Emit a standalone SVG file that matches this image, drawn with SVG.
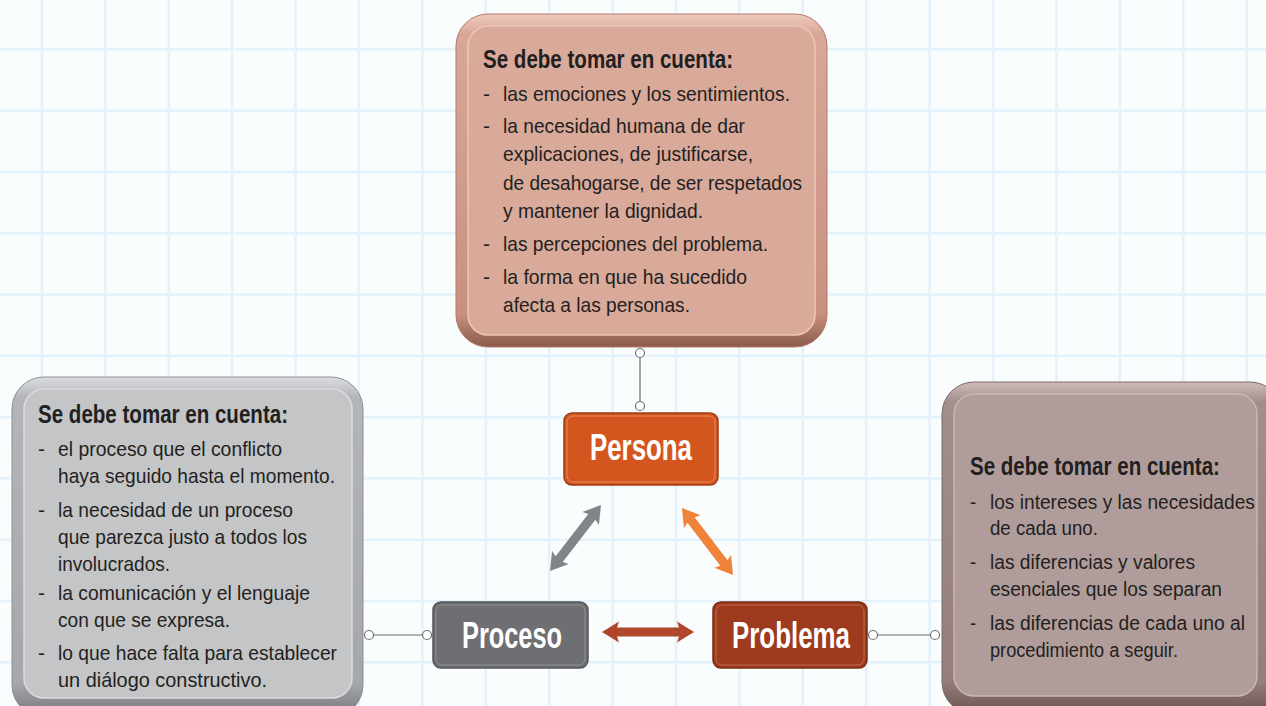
<svg xmlns="http://www.w3.org/2000/svg" width="1266" height="706" viewBox="0 0 1266 706">
<style>
.grid line{stroke:#e4f2fb;stroke-width:2.6}
.title{font-family:"Liberation Sans",Arial,sans-serif;font-weight:bold;font-size:25px;fill:#231f20}
.txt{font-family:"Liberation Sans",Arial,sans-serif;font-size:21px;fill:#231f20}
.lbl{font-family:"Liberation Sans",Arial,sans-serif;font-weight:bold;font-size:36px;fill:#ffffff;text-anchor:middle}
.conn line{stroke:#6d6e71;stroke-width:1.2}
.conn circle{fill:#ffffff;stroke:#6d6e71;stroke-width:1.2}
</style>
<defs>
<linearGradient id="gTop" x1="0" y1="0" x2="0" y2="1">
<stop offset="0" stop-color="#f0cbbd"/><stop offset="0.06" stop-color="#d9a798"/><stop offset="0.9" stop-color="#c8917f"/><stop offset="1" stop-color="#8c5a4b"/>
</linearGradient>
<linearGradient id="gLeft" x1="0" y1="0" x2="0" y2="1">
<stop offset="0" stop-color="#dcdddf"/><stop offset="0.06" stop-color="#b4b5b8"/><stop offset="0.9" stop-color="#a6a7aa"/><stop offset="1" stop-color="#76777a"/>
</linearGradient>
<linearGradient id="gRight" x1="0" y1="0" x2="0" y2="1">
<stop offset="0" stop-color="#cdbcba"/><stop offset="0.06" stop-color="#a38e8c"/><stop offset="0.9" stop-color="#957e7c"/><stop offset="1" stop-color="#6a5553"/>
</linearGradient>
</defs>
<rect x="0" y="0" width="1266" height="706" fill="#fafdfe"/>
<g class="grid">
<line x1="42" y1="0" x2="42" y2="706"/><line x1="105.4" y1="0" x2="105.4" y2="706"/><line x1="168.8" y1="0" x2="168.8" y2="706"/><line x1="232.2" y1="0" x2="232.2" y2="706"/><line x1="295.6" y1="0" x2="295.6" y2="706"/><line x1="359" y1="0" x2="359" y2="706"/><line x1="422.4" y1="0" x2="422.4" y2="706"/><line x1="485.8" y1="0" x2="485.8" y2="706"/><line x1="549.2" y1="0" x2="549.2" y2="706"/><line x1="612.6" y1="0" x2="612.6" y2="706"/><line x1="676" y1="0" x2="676" y2="706"/><line x1="739.4" y1="0" x2="739.4" y2="706"/><line x1="802.8" y1="0" x2="802.8" y2="706"/><line x1="866.2" y1="0" x2="866.2" y2="706"/><line x1="929.6" y1="0" x2="929.6" y2="706"/><line x1="993" y1="0" x2="993" y2="706"/><line x1="1056.4" y1="0" x2="1056.4" y2="706"/><line x1="1119.8" y1="0" x2="1119.8" y2="706"/><line x1="1183.2" y1="0" x2="1183.2" y2="706"/><line x1="1246.6" y1="0" x2="1246.6" y2="706"/>
<line x1="0" y1="49.3" x2="1266" y2="49.3"/><line x1="0" y1="110.6" x2="1266" y2="110.6"/><line x1="0" y1="171.9" x2="1266" y2="171.9"/><line x1="0" y1="233.2" x2="1266" y2="233.2"/><line x1="0" y1="294.5" x2="1266" y2="294.5"/><line x1="0" y1="355.8" x2="1266" y2="355.8"/><line x1="0" y1="417.1" x2="1266" y2="417.1"/><line x1="0" y1="478.4" x2="1266" y2="478.4"/><line x1="0" y1="539.7" x2="1266" y2="539.7"/><line x1="0" y1="601" x2="1266" y2="601"/><line x1="0" y1="662.3" x2="1266" y2="662.3"/>
</g>

<g id="connectors" class="conn">
<line x1="640" y1="353" x2="640" y2="406"/>
<circle cx="640" cy="353" r="4.5"/><circle cx="640" cy="406" r="4.5"/>
<line x1="369" y1="635" x2="427" y2="635"/>
<circle cx="369" cy="635" r="4.5"/><circle cx="427" cy="635" r="4.5"/>
<line x1="873" y1="635" x2="935" y2="635"/>
<circle cx="873" cy="635" r="4.5"/><circle cx="935" cy="635" r="4.5"/>
<polygon fill="#838487" transform="translate(575.5,538) rotate(-52.3)" points="-41.7,0 -24.7,-10.5 -26.7,-4.5 26.7,-4.5 24.7,-10.5 41.7,0 24.7,10.5 26.7,4.5 -26.7,4.5 -24.7,10.5"/>
<polygon fill="#f08239" transform="translate(707.5,541.5) rotate(52.7)" points="-42.1,0 -25.1,-10.5 -27.1,-4.5 27.1,-4.5 25.1,-10.5 42.1,0 25.1,10.5 27.1,4.5 -27.1,4.5 -25.1,10.5"/>
<polygon fill="#b0452a" transform="translate(648,632)" points="-46,0 -29,-10.5 -31,-4.5 31,-4.5 29,-10.5 46,0 29,10.5 31,4.5 -31,4.5 -29,10.5"/>
</g>

<g id="box-persona-info">
<rect x="456" y="14" width="371" height="333" rx="32" fill="url(#gTop)" stroke="#b27b6b" stroke-width="1"/>
<rect x="468" y="26" width="347" height="309" rx="20" fill="#d9a99a" stroke="#ecc6b8" stroke-width="1.5"/>
<text class="title" x="483" y="68" textLength="250" lengthAdjust="spacingAndGlyphs">Se debe tomar en cuenta:</text>
<text class="txt" x="483" y="101">-</text><text class="txt" x="503" y="101" textLength="287" lengthAdjust="spacingAndGlyphs">las emociones y los sentimientos.</text>
<text class="txt" x="483" y="133">-</text><text class="txt" x="503" y="133" textLength="242" lengthAdjust="spacingAndGlyphs">la necesidad humana de dar</text>
<text class="txt" x="503" y="161" textLength="250" lengthAdjust="spacingAndGlyphs">explicaciones, de justificarse,</text>
<text class="txt" x="503" y="190" textLength="299" lengthAdjust="spacingAndGlyphs">de desahogarse, de ser respetados</text>
<text class="txt" x="503" y="218" textLength="200" lengthAdjust="spacingAndGlyphs">y mantener la dignidad.</text>
<text class="txt" x="483" y="251">-</text><text class="txt" x="503" y="251" textLength="265" lengthAdjust="spacingAndGlyphs">las percepciones del problema.</text>
<text class="txt" x="483" y="284">-</text><text class="txt" x="503" y="284" textLength="244" lengthAdjust="spacingAndGlyphs">la forma en que ha sucedido</text>
<text class="txt" x="503" y="312" textLength="187" lengthAdjust="spacingAndGlyphs">afecta a las personas.</text>
</g>

<g id="box-proceso-info">
<rect x="12" y="377" width="351" height="340" rx="32" fill="url(#gLeft)" stroke="#8e8f92" stroke-width="1"/>
<rect x="24" y="389" width="328" height="309" rx="20" fill="#c4c5c7" stroke="#dadbdd" stroke-width="1.5"/>
<text class="title" x="38" y="423" textLength="250" lengthAdjust="spacingAndGlyphs">Se debe tomar en cuenta:</text>
<text class="txt" x="38" y="456">-</text><text class="txt" x="58" y="456" textLength="224" lengthAdjust="spacingAndGlyphs">el proceso que el conflicto</text>
<text class="txt" x="58" y="483" textLength="277" lengthAdjust="spacingAndGlyphs">haya seguido hasta el momento.</text>
<text class="txt" x="38" y="517">-</text><text class="txt" x="58" y="517" textLength="235" lengthAdjust="spacingAndGlyphs">la necesidad de un proceso</text>
<text class="txt" x="58" y="544" textLength="249" lengthAdjust="spacingAndGlyphs">que parezca justo a todos los</text>
<text class="txt" x="58" y="571" textLength="112" lengthAdjust="spacingAndGlyphs">involucrados.</text>
<text class="txt" x="38" y="600">-</text><text class="txt" x="58" y="600" textLength="252" lengthAdjust="spacingAndGlyphs">la comunicación y el lenguaje</text>
<text class="txt" x="58" y="627" textLength="172" lengthAdjust="spacingAndGlyphs">con que se expresa.</text>
<text class="txt" x="38" y="660">-</text><text class="txt" x="58" y="660" textLength="279" lengthAdjust="spacingAndGlyphs">lo que hace falta para establecer</text>
<text class="txt" x="58" y="687" textLength="209" lengthAdjust="spacingAndGlyphs">un diálogo constructivo.</text>
</g>

<g id="box-problema-info">
<rect x="942" y="382" width="340" height="332" rx="32" fill="url(#gRight)" stroke="#7e6866" stroke-width="1"/>
<rect x="954" y="394" width="303" height="302" rx="20" fill="#b09d9b" stroke="#c6b6b4" stroke-width="1.5"/>
<g transform="translate(970,0) scale(0.88,1)">
<text class="title" x="0" y="475" textLength="284" lengthAdjust="spacingAndGlyphs">Se debe tomar en cuenta:</text>
<text class="txt" x="0" y="509">-</text><text class="txt" x="22.7" y="509" textLength="301" lengthAdjust="spacingAndGlyphs">los intereses y las necesidades</text>
<text class="txt" x="22.7" y="535" textLength="122.7" lengthAdjust="spacingAndGlyphs">de cada uno.</text>
<text class="txt" x="0" y="569">-</text><text class="txt" x="22.7" y="569" textLength="233" lengthAdjust="spacingAndGlyphs">las diferencias y valores</text>
<text class="txt" x="22.7" y="596" textLength="263.6" lengthAdjust="spacingAndGlyphs">esenciales que los separan</text>
<text class="txt" x="0" y="630">-</text><text class="txt" x="22.7" y="630" textLength="289.8" lengthAdjust="spacingAndGlyphs">las diferencias de cada uno al</text>
<text class="txt" x="22.7" y="657" textLength="213.6" lengthAdjust="spacingAndGlyphs">procedimiento a seguir.</text>
</g>
</g>

<g id="node-persona">
<rect x="564" y="413" width="154" height="72" rx="8" fill="#d4561f" stroke="#9e3b14" stroke-width="1.5"/>
<rect x="567" y="416" width="148" height="66" rx="6" fill="none" stroke="#e9895d" stroke-width="1"/>
<text class="lbl" x="641" y="460" textLength="102" lengthAdjust="spacingAndGlyphs">Persona</text>
</g>
<g id="node-proceso">
<rect x="433" y="602" width="155" height="66" rx="8" fill="#6e6f73" stroke="#55565a" stroke-width="1.5"/>
<rect x="436" y="605" width="149" height="60" rx="6" fill="none" stroke="#8f9094" stroke-width="1"/>
<text class="lbl" x="512" y="648" textLength="100" lengthAdjust="spacingAndGlyphs">Proceso</text>
</g>
<g id="node-problema">
<rect x="713" y="602" width="154" height="66" rx="8" fill="#9e3a1e" stroke="#7a2a13" stroke-width="1.5"/>
<rect x="716" y="605" width="148" height="60" rx="6" fill="none" stroke="#bf6a50" stroke-width="1"/>
<text class="lbl" x="791" y="648" textLength="118" lengthAdjust="spacingAndGlyphs">Problema</text>
</g>
</svg>
